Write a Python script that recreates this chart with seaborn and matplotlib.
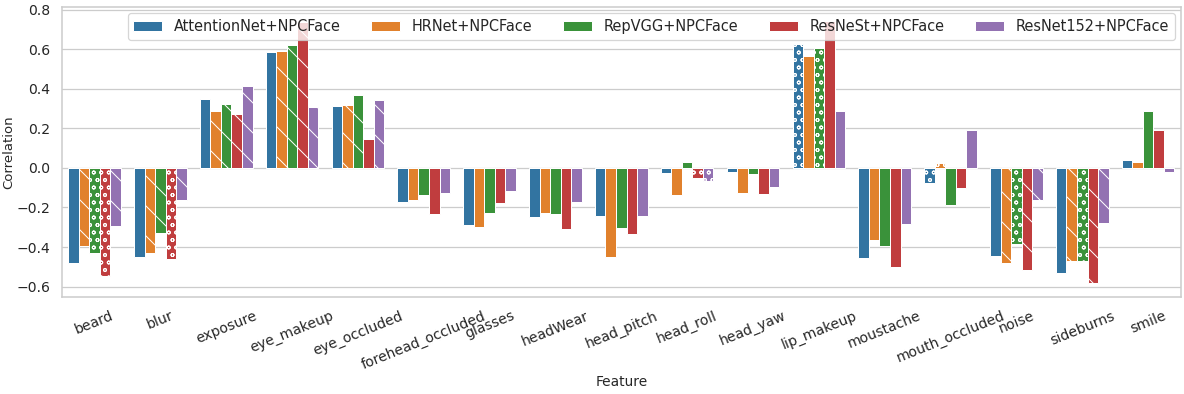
import numpy as np
import pandas as pd
import matplotlib
matplotlib.use("Agg")
import matplotlib.pyplot as plt
import seaborn as sns

# --- DATA ---
features = ["beard", "blur", "exposure", "eye_makeup", "eye_occluded",
            "forehead_occluded", "glasses", "headWear", "head_pitch",
            "head_roll", "head_yaw", "lip_makeup", "moustache",
            "mouth_occluded", "noise", "sideburns", "smile"]
models = ["AttentionNet+NPCFace", "HRNet+NPCFace", "RepVGG+NPCFace",
          "ResNeSt+NPCFace", "ResNet152+NPCFace"]

attention = [-0.483, -0.452, 0.347, 0.585, 0.313, -0.172, -0.290, -0.250, -0.242,
             -0.028, -0.023, 0.625, -0.455, -0.077, -0.443, -0.530, 0.040]
hrnet = [-0.397, -0.430, 0.290, 0.593, 0.317, -0.162, -0.300, -0.228, -0.448,
         -0.138, -0.127, 0.567, -0.365, 0.025, -0.480, -0.473, 0.028]
repvgg = [-0.430, -0.330, 0.323, 0.623, 0.367, -0.138, -0.228, -0.235, -0.303,
          0.032, -0.030, 0.605, -0.397, -0.190, -0.387, -0.473, 0.287]
resnest = [-0.545, -0.463, 0.273, 0.740, 0.145, -0.232, -0.178, -0.307, -0.335,
           -0.053, -0.132, 0.745, -0.503, -0.102, -0.517, -0.580, 0.193]
resnet152 = [-0.293, -0.160, 0.412, 0.310, 0.342, -0.128, -0.118, -0.172, -0.242,
             -0.068, -0.098, 0.287, -0.282, 0.193, -0.160, -0.278, -0.023]

# significance marker per bar: 0 = none, 1 = diagonal, 2 = circles
sig_attention = [0, 0, 0, 0, 0, 0, 0, 0, 0, 0, 0, 2, 0, 2, 0, 0, 0]
sig_hrnet = [1, 1, 1, 1, 1, 0, 0, 0, 0, 0, 0, 0, 0, 2, 1, 1, 0]
sig_repvgg = [2, 1, 1, 1, 1, 0, 0, 0, 0, 0, 0, 2, 0, 0, 2, 2, 0]
sig_resnest = [2, 2, 1, 1, 0, 0, 0, 0, 0, 2, 0, 0, 0, 0, 1, 1, 0]
sig_resnet152 = [1, 1, 1, 1, 1, 0, 0, 0, 0, 2, 0, 0, 0, 0, 1, 1, 0]

values = [attention, hrnet, repvgg, resnest, resnet152]
sigs = [sig_attention, sig_hrnet, sig_repvgg, sig_resnest, sig_resnet152]

df = pd.DataFrame({
    "Feature": np.tile(features, len(models)),
    "Model": np.repeat(models, len(features)),
    "Correlation": np.concatenate(values),
})

# --- Styling ---
sns.set_theme(style="whitegrid")
plt.rcParams["hatch.color"] = "white"
plt.rcParams["hatch.linewidth"] = 0.8

DPI = 90
fig, ax = plt.subplots(figsize=(1184 / DPI, 394 / DPI), dpi=DPI)
fig.subplots_adjust(left=0.052, right=0.9975, top=0.983, bottom=0.245)

sns.barplot(data=df, x="Feature", y="Correlation", hue="Model",
            order=features, hue_order=models, palette="tab10",
            edgecolor="white", linewidth=0.8, ax=ax)

hatch_map = {0: "", 1: "\\", 2: "oo"}
for cont, sig in zip(ax.containers, sigs):
    for bar, s in zip(cont, sig):
        bar.set_hatch(hatch_map[s])

ax.set_ylim(-0.655, 0.815)
ax.set_yticks([-0.6, -0.4, -0.2, 0.0, 0.2, 0.4, 0.6, 0.8])
ax.tick_params(axis="y", labelsize=11.2, pad=3)
ax.tick_params(axis="x", labelsize=11.2, pad=3)
plt.setp(ax.get_xticklabels(), rotation=22, ha="center")
ax.set_xlabel("Feature", fontsize=11)
ax.set_ylabel("Correlation", fontsize=10.6)
ax.xaxis.set_label_coords(0.5, -0.265)
ax.yaxis.set_label_coords(-0.041, 0.5)

ax.legend(loc="upper right", ncol=5, fontsize=11.6, columnspacing=2.1,
          borderaxespad=0.45)

fig.savefig("out.png", dpi=DPI)
